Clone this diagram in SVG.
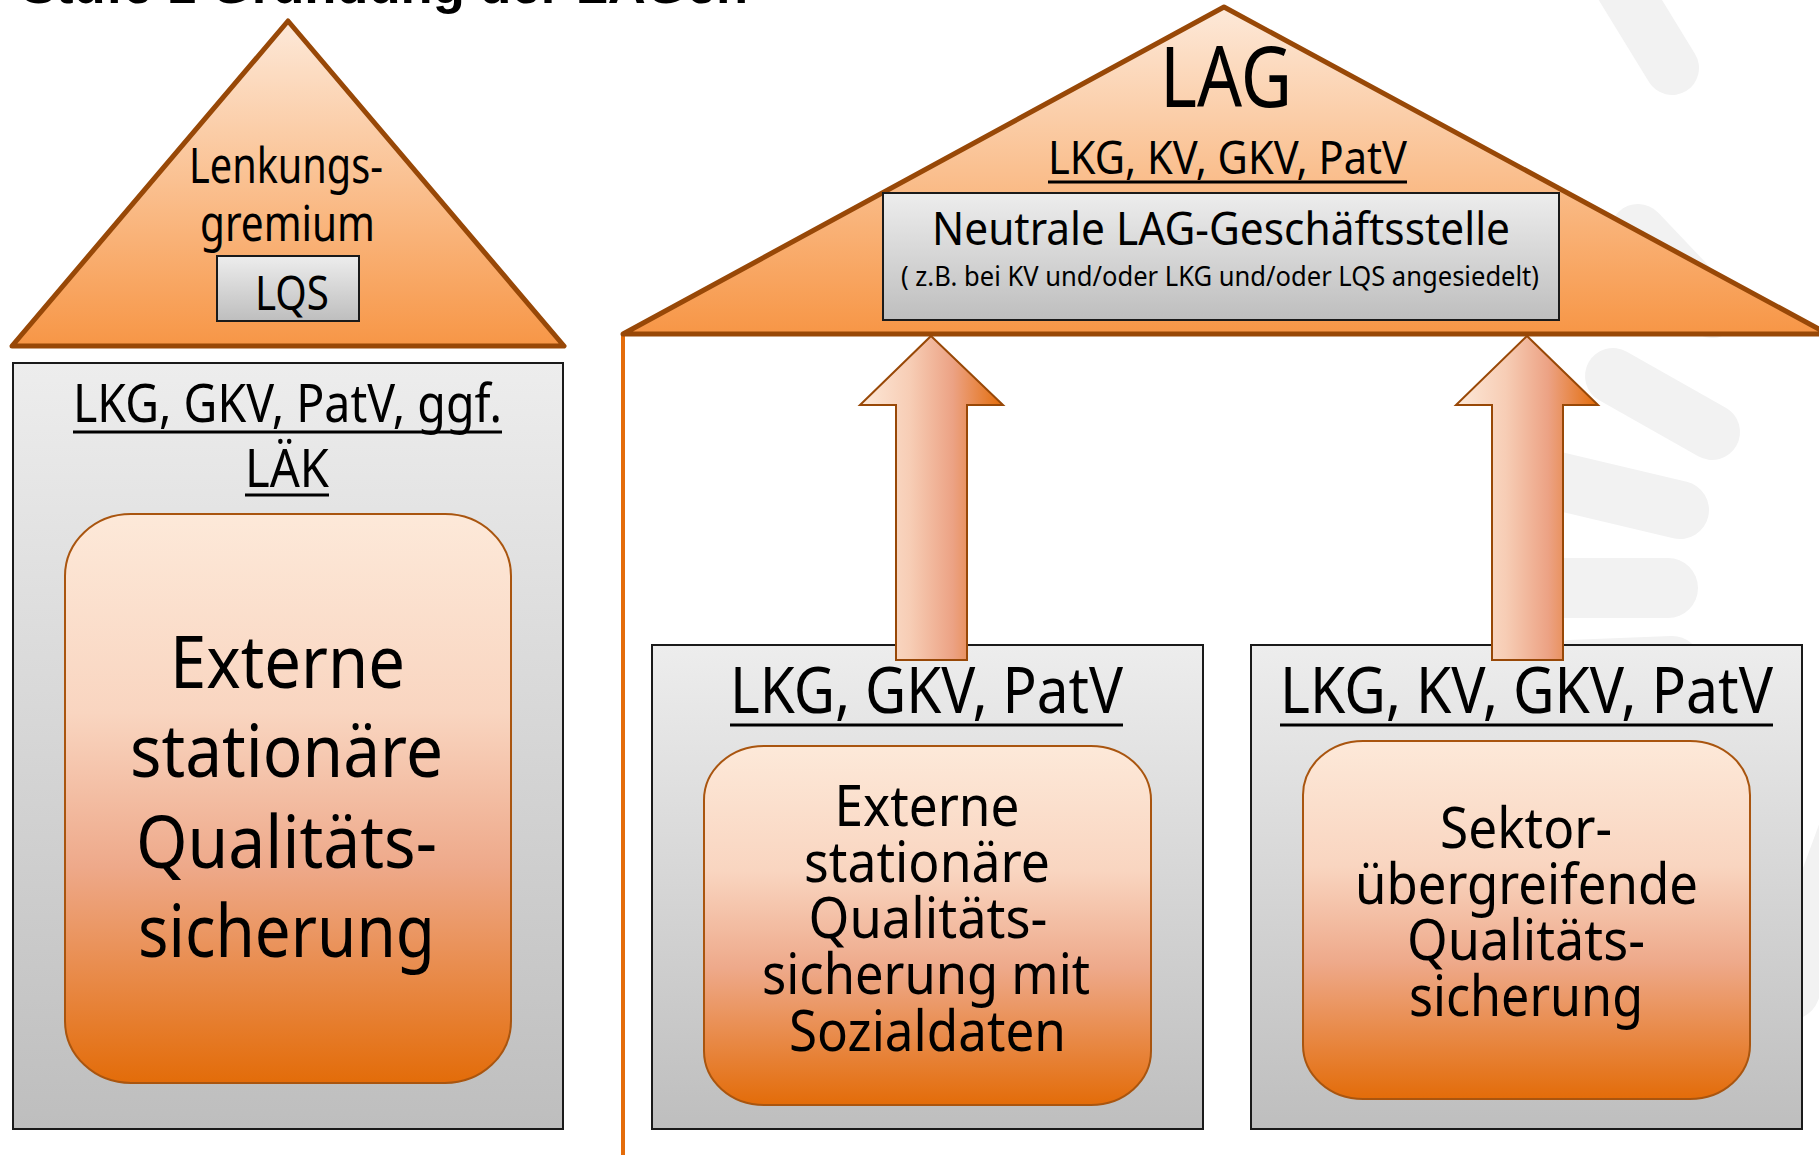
<svg xmlns="http://www.w3.org/2000/svg" width="1819" height="1155" viewBox="0 0 1819 1155">
<defs>
<linearGradient id="gTri" x1="0" y1="0" x2="0" y2="1">
<stop offset="0" stop-color="#fde9d9"/><stop offset="0.5" stop-color="#fac090"/><stop offset="1" stop-color="#f79646"/>
</linearGradient>
<linearGradient id="gGray" x1="0" y1="0" x2="0" y2="1">
<stop offset="0" stop-color="#ededed"/><stop offset="1" stop-color="#bebebe"/>
</linearGradient>
<linearGradient id="gInner" x1="0" y1="0" x2="0" y2="1">
<stop offset="0" stop-color="#fde9d9"/><stop offset="0.35" stop-color="#f9d5c0"/><stop offset="0.62" stop-color="#eea98a"/><stop offset="1" stop-color="#e36c09"/>
</linearGradient>
<linearGradient id="gArrow" x1="0" y1="0" x2="1" y2="0">
<stop offset="0" stop-color="#fde9d9"/><stop offset="0.35" stop-color="#f7cdb5"/><stop offset="0.65" stop-color="#eca284"/><stop offset="1" stop-color="#e36c09"/>
</linearGradient>
<style>
.t{font-family:"Noto Sans","Liberation Sans",sans-serif;fill:#000;text-anchor:middle}
.ttl{font-family:"Liberation Sans",Arial,sans-serif;font-weight:bold;fill:#000}
.tri{fill:url(#gTri);stroke:#984807;stroke-width:5;stroke-linejoin:round}
.box{fill:url(#gGray);stroke:#1a1a1a;stroke-width:2}
.inner{fill:url(#gInner);stroke:#a9550f;stroke-width:2}
.arrow{fill:url(#gArrow);stroke:#984807;stroke-width:2}
.ul{stroke:#000;stroke-width:3}
.wm{stroke:#f2f2f2;stroke-linecap:round;fill:none}
</style>
</defs>
<rect x="0" y="0" width="1819" height="1155" fill="#ffffff"/>
<g id="watermark">
<line class="wm" x1="1612" y1="-30" x2="1672" y2="68" stroke-width="54"/>
<line class="wm" x1="1638" y1="232" x2="1712" y2="310" stroke-width="56"/>
<line class="wm" x1="1613" y1="376" x2="1712" y2="432" stroke-width="56"/>
<line class="wm" x1="1545" y1="478" x2="1680" y2="510" stroke-width="58"/>
<line class="wm" x1="1545" y1="588" x2="1668" y2="588" stroke-width="60"/>
<line class="wm" x1="1570" y1="670" x2="1672" y2="666" stroke-width="60"/>
<line class="wm" x1="1860" y1="800" x2="1790" y2="990" stroke-width="60"/>
</g>
<g id="title">
<text class="ttl" x="21" y="3" font-size="52" textLength="727" lengthAdjust="spacingAndGlyphs">Stufe 1 Gründung der LAGen</text>
</g>
<g id="lag-wall">
<line x1="623" y1="334" x2="623" y2="1160" stroke="#e46c0a" stroke-width="4"/>
</g>
<g id="lag-roof">
<polygon class="tri" points="623,334 1224,7 1828,334"/>
<text class="t" x="1226" y="107" font-size="84" textLength="132" lengthAdjust="spacingAndGlyphs">LAG</text>
<text class="t" x="1227.5" y="174" font-size="45" textLength="359" lengthAdjust="spacingAndGlyphs">LKG, KV, GKV, PatV</text>
<line class="ul" x1="1048" y1="182" x2="1407" y2="182" stroke-width="2.5"/>
</g>
<g id="lag-office">
<rect class="box" x="883" y="193" width="676" height="127"/>
<text class="t" x="1221" y="245" font-size="45" textLength="578" lengthAdjust="spacingAndGlyphs">Neutrale LAG-Geschäftsstelle</text>
<text class="t" x="1220" y="286" font-size="27" textLength="638" lengthAdjust="spacingAndGlyphs">( z.B. bei KV und/oder LKG und/oder LQS angesiedelt)</text>
</g>
<g id="left-roof">
<polygon class="tri" points="12,346 288,21 564,346"/>
<text class="t" x="286" y="183" font-size="49" textLength="194" lengthAdjust="spacingAndGlyphs">Lenkungs-</text>
<text class="t" x="287.5" y="241" font-size="49" textLength="175" lengthAdjust="spacingAndGlyphs">gremium</text>
</g>
<g id="lqs">
<rect class="box" x="217" y="256" width="142" height="65"/>
<text class="t" x="292" y="310" font-size="47" textLength="74" lengthAdjust="spacingAndGlyphs">LQS</text>
</g>
<g id="left-box">
<rect class="box" x="13" y="363" width="550" height="766"/>
<text class="t" x="287.5" y="422" font-size="53" textLength="429" lengthAdjust="spacingAndGlyphs">LKG, GKV, PatV, ggf.</text>
<line class="ul" x1="73" y1="432" x2="502" y2="432"/>
<text class="t" x="287" y="487" font-size="53" textLength="84" lengthAdjust="spacingAndGlyphs">LÄK</text>
<line class="ul" x1="245" y1="495" x2="329" y2="495"/>
</g>
<g id="left-inner">
<rect class="inner" x="65" y="514" width="446" height="569" rx="66" ry="62"/>
<text class="t" x="287.5" y="688" font-size="73" textLength="235" lengthAdjust="spacingAndGlyphs">Externe</text>
<text class="t" x="286.5" y="777" font-size="73" textLength="313" lengthAdjust="spacingAndGlyphs">stationäre</text>
<text class="t" x="286.5" y="868" font-size="73" textLength="301" lengthAdjust="spacingAndGlyphs">Qualitäts-</text>
<text class="t" x="286.5" y="957" font-size="73" textLength="297" lengthAdjust="spacingAndGlyphs">sicherung</text>
</g>
<g id="mid-box">
<rect class="box" x="652" y="645" width="551" height="484"/>
<text class="t" x="926.5" y="713" font-size="63" textLength="393" lengthAdjust="spacingAndGlyphs">LKG, GKV, PatV</text>
<line class="ul" x1="730" y1="725" x2="1123" y2="725" stroke-width="3.5"/>
</g>
<g id="right-box">
<rect class="box" x="1251" y="645" width="551" height="484"/>
<text class="t" x="1526.5" y="713" font-size="63" textLength="493" lengthAdjust="spacingAndGlyphs">LKG, KV, GKV, PatV</text>
<line class="ul" x1="1280" y1="725" x2="1773" y2="725" stroke-width="3.5"/>
</g>
<g id="connectors">
<path class="arrow" d="M931,336 L1003,405 L967,405 L967,660 L896,660 L896,405 L860,405 Z"/>
<path class="arrow" d="M1527,336 L1598,405 L1563,405 L1563,660 L1492,660 L1492,405 L1456,405 Z"/>
</g>
<g id="mid-inner">
<rect class="inner" x="704" y="746" width="447" height="359" rx="60" ry="54"/>
<text class="t" x="927" y="826" font-size="56" textLength="185" lengthAdjust="spacingAndGlyphs">Externe</text>
<text class="t" x="927" y="882" font-size="56" textLength="246" lengthAdjust="spacingAndGlyphs">stationäre</text>
<text class="t" x="928" y="938" font-size="56" textLength="239" lengthAdjust="spacingAndGlyphs">Qualitäts-</text>
<text class="t" x="926" y="994" font-size="56" textLength="328" lengthAdjust="spacingAndGlyphs">sicherung mit</text>
<text class="t" x="927.5" y="1051" font-size="56" textLength="277" lengthAdjust="spacingAndGlyphs">Sozialdaten</text>
</g>
<g id="right-inner">
<rect class="inner" x="1303" y="741" width="447" height="358" rx="60" ry="54"/>
<text class="t" x="1526" y="848" font-size="56" textLength="172" lengthAdjust="spacingAndGlyphs">Sektor-</text>
<text class="t" x="1526.5" y="904" font-size="56" textLength="343" lengthAdjust="spacingAndGlyphs">übergreifende</text>
<text class="t" x="1526" y="960" font-size="56" textLength="238" lengthAdjust="spacingAndGlyphs">Qualitäts-</text>
<text class="t" x="1526" y="1016" font-size="56" textLength="234" lengthAdjust="spacingAndGlyphs">sicherung</text>
</g>
</svg>
